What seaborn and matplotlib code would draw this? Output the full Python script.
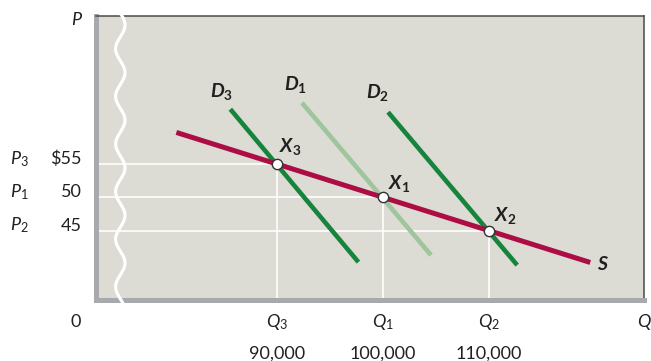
import matplotlib.pyplot as plt
import matplotlib.transforms as mtransforms
import numpy as np
import pandas as pd
import seaborn as sns

# equilibrium points: quantity (units) and price ($)
points = ["X3", "X1", "X2"]
quantity = [90000, 100000, 110000]
price = [55, 50, 45]
q_labels = ["$Q_3$", "$Q_1$", "$Q_2$"]
q_ticks = ["90,000", "100,000", "110,000"]
p_labels = ["$P_3$", "$P_1$", "$P_2$"]
p_ticks = [r"\$55", "50", "45"]

# curve end points (quantity, price)
s_q = [80500, 119600]
s_p = [59.75, 40.2]
d3_q = [85600, 97700]
d3_p = [63.25, 40.25]
d1_q = [92370, 104560]
d1_p = [64.2, 41.3]
d2_q = [100500, 112700]
d2_p = [62.8, 39.8]

curves = pd.DataFrame({
    "curve": ["D1"] * 2 + ["D3"] * 2 + ["D2"] * 2 + ["S"] * 2,
    "Q": d1_q + d3_q + d2_q + s_q,
    "P": d1_p + d3_p + d2_p + s_p,
})

# Theme
sns.set_theme(style="white")
plt.rcParams["font.family"] = ["Lato", "DejaVu Sans"]
plt.rcParams["mathtext.fontset"] = "custom"
plt.rcParams["mathtext.rm"] = "Lato"
plt.rcParams["mathtext.it"] = "Lato:italic"
plt.rcParams["mathtext.bf"] = "Lato:bold"
plt.rcParams["mathtext.bfit"] = "Lato:bold:italic"
plt.rcParams["ytick.alignment"] = "baseline"

ink = "#231f20"
colors = {"S": "#ab0d44", "D3": "#16843c", "D2": "#16843c", "D1": "#9fc59c"}

W, H = 651, 361
fig = plt.figure(figsize=(W / 100, H / 100), dpi=100)
ax = fig.add_axes([95.5 / W, 1 - 299.5 / H, 548.5 / W, 283.5 / H])
ax.set_facecolor("#dcdbd4")
xmin, xmax = 72860, 124680
ymin, ymax = 34.63, 77.26
ax.set_xlim(xmin, xmax)
ax.set_ylim(ymin, ymax)

# guide lines to the axes
ax.hlines(price, xmin, quantity, color="white", lw=1.2, zorder=1)
ax.vlines(quantity, ymin, price, color="white", lw=1.2, zorder=1)

# demand and supply curves
for name in ["D1", "D3", "D2", "S"]:
    sub = curves[curves["curve"] == name]
    sns.lineplot(data=sub, x="Q", y="P", color=colors[name],
                 lw=3.6 if name == "S" else 3.3, sort=False,
                 solid_capstyle="butt", ax=ax, zorder=3 if name == "S" else 2)

sns.scatterplot(x=quantity, y=price, s=55, color="white", edgecolor="#333333",
                linewidth=1, zorder=5, ax=ax)

# axis break (wavy line)
yw = np.linspace(13, 303, 300)
xw = 120.3 + 4.7 * np.cos(2 * np.pi * (yw - 25) / 47.6)
ax.plot(xw / W, 1 - yw / H, transform=fig.transFigure, color="white",
        lw=2.3, clip_on=False, zorder=4)

# spines
for side in ["left", "bottom"]:
    ax.spines[side].set_color("#a8a9ac")
    ax.spines[side].set_linewidth(3.6)
for side in ["top", "right"]:
    ax.spines[side].set_color("#4a4a4a")
    ax.spines[side].set_linewidth(1.1)
ax.spines["bottom"].set_zorder(3)

# ticks
ax.set_xticks(quantity, labels=q_ticks)
ax.set_yticks(price, labels=p_ticks)
ax.tick_params(length=0, labelsize=13, colors=ink)
ax.tick_params(axis="y", pad=9.7)
ax.tick_params(axis="x", pad=33)
ax.set_xlabel("")
ax.set_ylabel("")

xt = mtransforms.blended_transform_factory(ax.transData, ax.transAxes)
yt = mtransforms.blended_transform_factory(ax.transAxes, ax.transData)
for q, lab in zip(quantity, q_labels):
    ax.text(q, -0.097, lab, transform=xt, ha="center", va="baseline",
            fontsize=13, color=ink)
for p, lab in zip(price, p_labels):
    ax.text(-0.156, p, lab, transform=yt, ha="left", va="baseline",
            fontsize=13, color=ink)
ax.text(-0.037, -0.097, "0", transform=ax.transAxes, ha="center",
        va="baseline", fontsize=13, color=ink)
ax.text(0.988, -0.097, "$Q$", transform=ax.transAxes, ha="left",
        va="baseline", fontsize=13, color=ink)
ax.text(-0.034, 0.968, "$P$", transform=ax.transAxes, ha="center",
        va="baseline", fontsize=13, color=ink)

# curve and point labels
bold = dict(textcoords="offset pixels", ha="left", va="baseline",
            fontsize=14, color=ink)
ax.annotate(r"$\mathbfit{D}_{\mathbf{3}}$", (d3_q[0], d3_p[0]), xytext=(-20, 12), **bold)
ax.annotate(r"$\mathbfit{D}_{\mathbf{1}}$", (d1_q[0], d1_p[0]), xytext=(-18, 13), **bold)
ax.annotate(r"$\mathbfit{D}_{\mathbf{2}}$", (d2_q[0], d2_p[0]), xytext=(-22, 14), **bold)
ax.annotate(r"$\mathbfit{S}$", (s_q[1], s_p[1]), xytext=(7, -8), **bold)
for name, q, p, off in zip(points, quantity, price, [(2, 12), (5, 8), (5, 10)]):
    ax.annotate(r"$\mathbfit{X}_{\mathbf{%s}}$" % name[1], (q, p), xytext=off, **bold)

plt.savefig("out.png", dpi=100)
